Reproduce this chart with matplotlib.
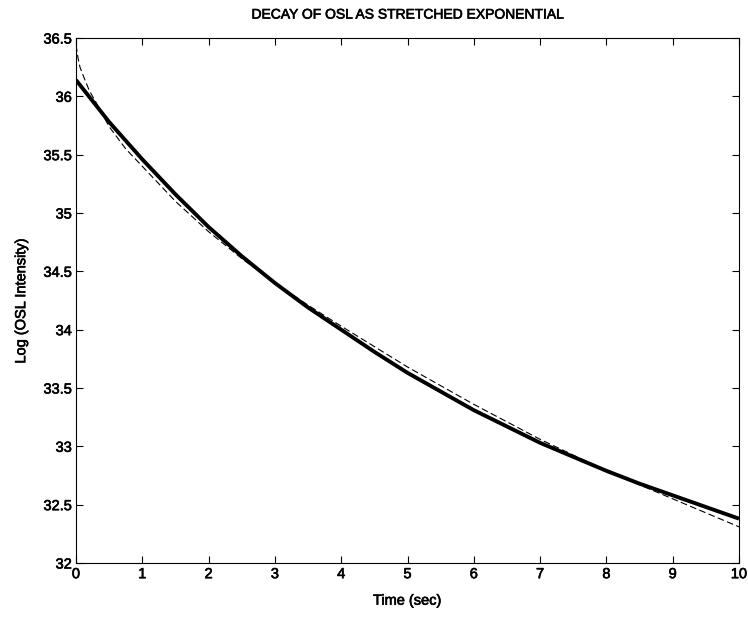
import matplotlib
matplotlib.use("Agg")
import matplotlib.pyplot as plt
import matplotlib.patheffects as pe

plt.rcParams['font.family'] = ['Liberation Sans', 'DejaVu Sans']

# measured OSL decay (thick solid line)
t_data = [0, 0.25, 0.5, 0.75, 1, 1.5, 2, 2.5, 3, 3.5, 4, 4.5, 5, 5.5, 6,
          6.5, 7, 7.5, 8, 8.5, 9, 9.5, 10]
log_data = [36.14, 35.96, 35.78, 35.62, 35.46, 35.16, 34.88, 34.63, 34.40,
            34.19, 34.00, 33.81, 33.63, 33.47, 33.31, 33.17, 33.03, 32.91,
            32.79, 32.68, 32.58, 32.48, 32.38]

# stretched exponential fit (dashed line)
t_fit = [0, 0.03, 0.06, 0.1, 0.15, 0.2, 0.3, 0.5, 0.75, 1, 1.5, 2, 2.5, 3,
         3.5, 4, 5, 6, 7, 8, 9, 10]
log_fit = [36.44, 36.33, 36.25, 36.19, 36.12, 36.05, 35.95, 35.74, 35.55,
           35.40, 35.10, 34.84, 34.61, 34.40, 34.21, 34.03, 33.68, 33.36,
           33.06, 32.79, 32.55, 32.31]

x_ticks = list(range(0, 11))
y_ticks = [32, 32.5, 33, 33.5, 34, 34.5, 35, 35.5, 36, 36.5]
y_labels = ["32", "32.5", "33", "33.5", "34", "34.5", "35", "35.5", "36", "36.5"]

fig = plt.figure(figsize=(7.48, 6.17), dpi=100)
ax = fig.add_axes([76 / 748, 1 - 563 / 617, 663 / 748, 525 / 617])

ax.plot(t_data, log_data, color="black", linewidth=2.8, solid_capstyle="butt")
ax.plot(t_fit, log_fit, color="black", linewidth=0.8, linestyle=(0, (6, 3)))

ax.set_xlim(0, 10)
ax.set_ylim(32, 36.5)
ax.set_xticks(x_ticks)
ax.set_yticks(y_ticks)
ax.set_yticklabels(y_labels)
ax.tick_params(direction="in", length=5, width=0.8, top=True, right=True,
               labelsize=10.5, pad=3)
for s in ax.spines.values():
    s.set_linewidth(0.8)

ax.set_title("DECAY OF OSL AS STRETCHED EXPONENTIAL", fontsize=10, pad=14)
ax.set_xlabel("Time (sec)", fontsize=10.5, labelpad=9)
ax.set_ylabel("Log (OSL Intensity)", fontsize=10.5, labelpad=11)

# heavier text like the original bitmap font
bold = [pe.withStroke(linewidth=0.45, foreground="black")]
for txt in ax.get_xticklabels() + ax.get_yticklabels():
    txt.set_path_effects(bold)
for txt in [ax.title, ax.xaxis.label, ax.yaxis.label]:
    txt.set_path_effects(bold)

fig.savefig("out.png", dpi=100)
